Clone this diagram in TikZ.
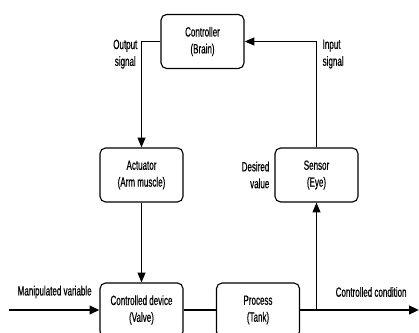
\documentclass[tikz,border=0pt]{standalone}
\usepackage{fontspec}
\setmainfont{Liberation Sans}[FakeStretch=0.6, FakeBold=0.6]
\usetikzlibrary{positioning, arrows.meta}

\begin{document}
\begin{tikzpicture}[
        x=0.025cm, y=-0.025cm,
        block/.style={rectangle, draw, rounded corners=4pt, minimum width=2.075cm, minimum height=1.35cm, align=center, font=\fontsize{9.5}{12}\selectfont, line width=0.8pt},
        tag/.style={align=center, font=\fontsize{9.5}{12}\selectfont, inner sep=1pt},
        arrow/.style={-{Triangle[length=7pt, width=5.6pt]}, line width=1pt},
        flow/.style={-{Triangle[length=7pt, width=6pt]}, line width=1.6pt}
    ]
    \useasboundingbox (0,0) rectangle (419,333);
    \clip (0,0) rectangle (419,333);
%
    % Blocks
    \node[block] (ctrl) at (202.5,41.5) {Controller\\(Brain)};
    \node[block] (act) at (141.5,175) {Actuator\\(Arm muscle)};
    \node[block] (sens) at (316.5,175) {Sensor\\(Eye)};
    \node[block] (dev) at (141.5,310) {Controlled device\\(Valve)};
    \node[block] (proc) at (258,310) {Process\\(Tank)};
    \coordinate (in) at (9,310);
    \coordinate (out) at (419,310);
    \coordinate (tap) at (sens.south |- proc.east);
%
    % Connectors
    \draw[arrow] (ctrl.west) -| (act.north);
    \draw[arrow] (sens.north) |- (ctrl.east);
    \draw[arrow] (act.south) -- (dev.north);
    \draw[flow] (in) -- (dev.west);
    \draw[line width=1.6pt] (dev.east) -- (proc.west);
    \draw[flow] (proc.east) -- (out);
    \draw[arrow] (tap) -- (sens.south);
%
    % Labels
    \node[tag, anchor=north east] (outsig) at (139,38) {Output\\signal};
    \node[tag, anchor=north west, align=left] (insig) at (321,38) {Input\\signal};
    \node[tag, anchor=east, align=right] (desired) at (271,175) {Desired\\value};
    \node[tag, anchor=west] (manip) at (16,292) {Manipulated variable};
    \node[tag, anchor=west] (cond) at (334,292) {Controlled condition};
\end{tikzpicture}
\end{document}
